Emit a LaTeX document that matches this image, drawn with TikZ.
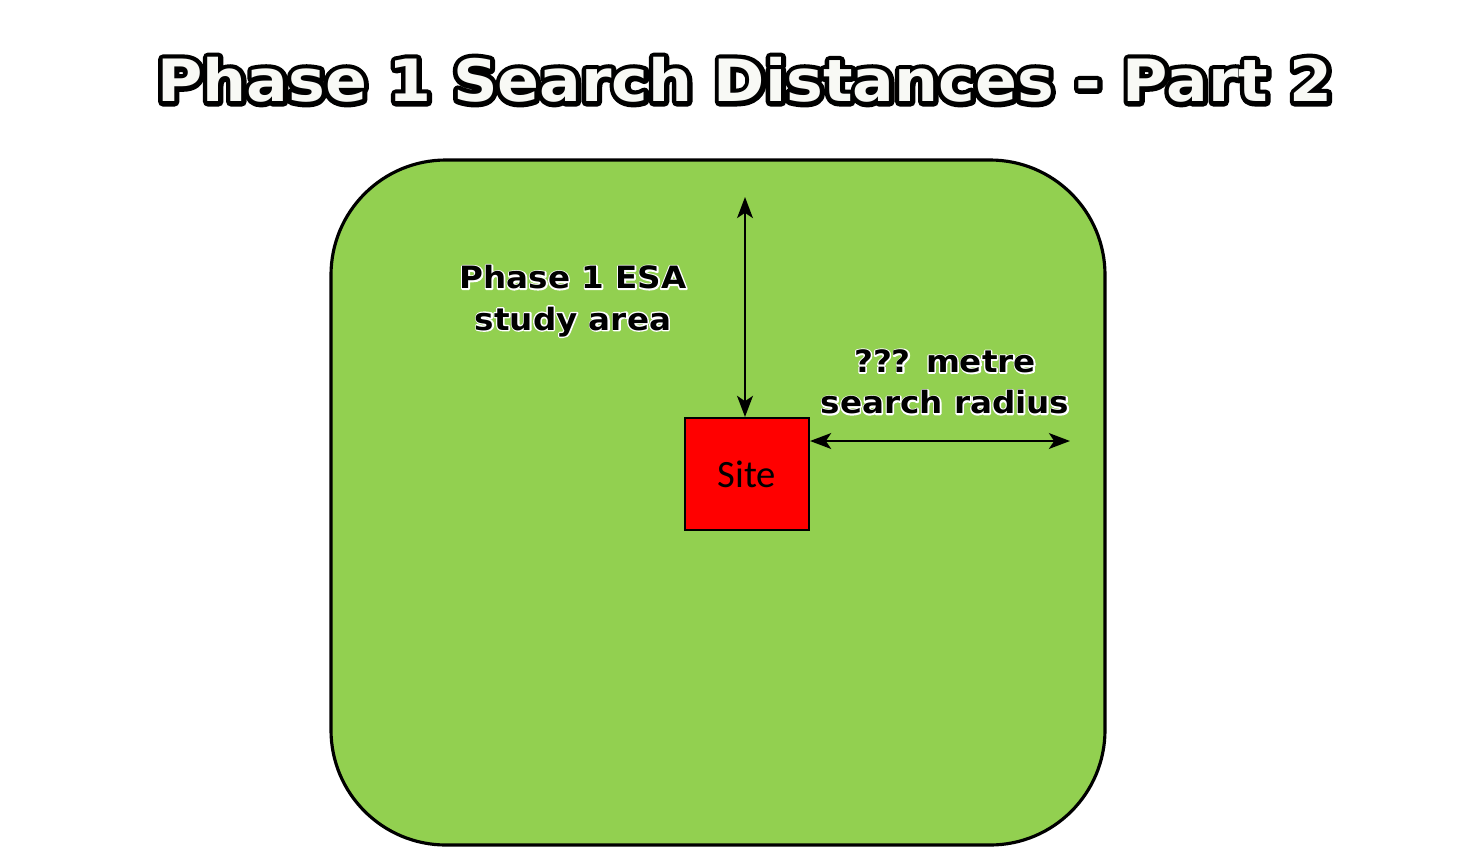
\documentclass[tikz,border=0pt]{standalone}
\usepackage{fontspec}
\usetikzlibrary{arrows.meta}
\setmainfont{Liberation Sans}
\newfontfamily\sitefont{Carlito}
\newfontfamily\heavyfont{DejaVu Sans Bold}[FakeStretch=1.06]
\definecolor{areagreen}{HTML}{92D050}
\definecolor{titlewhite}{HTML}{F8F9F5}
% outlined text: stroke colour, stroke width (bp), fill colour, text
\newcommand\outlined[4]{%
  \rlap{\special{pdf:code q 1 Tr #2 w 1 J 1 j}\textcolor{#1}{#4}\special{pdf:code Q}}%
  \textcolor{#3}{#4}}
\begin{document}
\begin{tikzpicture}[x=0.02cm,y=-0.02cm,>={Stealth[length=12pt,width=9pt,inset=3pt]},
  lbl/.style={align=center,font=\heavyfont\fontsize{17.5}{23.5}\selectfont}]
\useasboundingbox (0,0) rectangle (1458,863);

% title
\node[font=\heavyfont\fontsize{33.2}{40}\selectfont] (title) at (745,80)
  {\outlined{black}{5.5}{titlewhite}{Phase 1 Search Distances - Part 2}};

% study area and site
\draw[line width=1.8pt,fill=areagreen,rounded corners=2.3cm] (331,160) rectangle (1105,845);
\node[draw,line width=1.2pt,fill=red,minimum width=2.48cm,minimum height=2.24cm,
  font=\sitefont\fontsize{22}{26}\selectfont] (site) at (747,474) {Site};

\coordinate (top) at (745,197);
\coordinate (edge) at (1070,441);
\draw[<->,line width=1.2pt] (top)--(site.north-|top);
\draw[<->,line width=1.2pt] (site.east|-edge)--(edge);

\node[lbl] (study) at (573,301)
  {\outlined{white}{1.6}{black}{Phase 1 ESA}\\\outlined{white}{1.6}{black}{study area}};
\node[lbl] (radius) at (945,382)
  {\outlined{white}{1.6}{black}{??? metre}\\\outlined{white}{1.6}{black}{search radius}};
\end{tikzpicture}
\end{document}
